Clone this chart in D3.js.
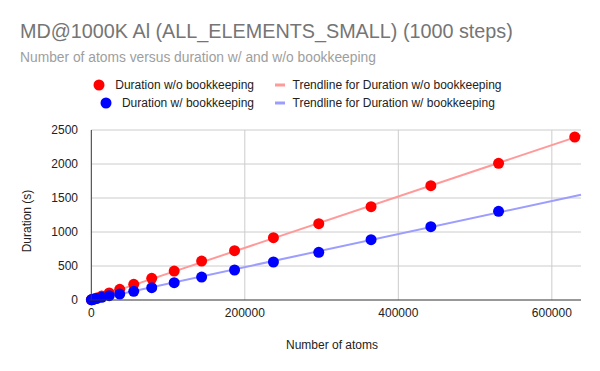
<!DOCTYPE html>
<html><head><meta charset="utf-8">
<script src="https://cdn.jsdelivr.net/npm/d3@7"></script>
<style>body{margin:0;background:#fff}svg{display:block;font-family:"Liberation Sans",Arial,sans-serif}</style>
</head><body><svg id="c" width="600" height="371"></svg>
<script>
const atoms = [108, 864, 2916, 6912, 13500, 23328, 37044, 55296, 78732, 108000, 143748, 186624, 237276, 296352, 364500, 442368, 530604, 629856];
const durWo = [5, 8, 15, 30, 57, 103, 157, 230, 319, 426, 573, 725, 916, 1122, 1372, 1681, 2010, 2397];
const atomsW = [108, 864, 2916, 6912, 13500, 23328, 37044, 55296, 78732, 108000, 143748, 186624, 237276, 296352, 364500, 442368, 530604];
const durW = [2, 4, 10, 22, 40, 64, 88, 128, 181, 255, 338, 441, 559, 701, 887, 1078, 1304];
const yTicks = [0, 500, 1000, 1500, 2000, 2500];
const xTicks = [0, 200000, 400000, 600000];
const seriesNames = ["Duration w/o bookkeeping", "Duration w/ bookkeeping"];
const trendNames = ["Trendline for Duration w/o bookkeeping", "Trendline for Duration w/ bookkeeping"];

const svg = d3.select("#c");
const L = 91.3, R = 581, T = 130, B = 300;
const x = d3.scaleLinear().domain([0, 638000]).range([L, R]);
const y = d3.scaleLinear().domain([0, 2500]).range([B, T]);

svg.append("text").attr("x", 20).attr("y", 37.5).attr("font-size", 19.8).attr("fill", "#757575").text("MD@1000K Al (ALL_ELEMENTS_SMALL) (1000 steps)");
svg.append("text").attr("x", 20).attr("y", 61.5).attr("font-size", 13.8).attr("fill", "#9e9e9e").text("Number of atoms versus duration w/ and w/o bookkeeping");

// grid
svg.append("g").selectAll("line").data(yTicks.slice(1)).join("line")
  .attr("x1", L).attr("x2", R).attr("y1", d => y(d)).attr("y2", d => y(d)).attr("stroke", "#cccccc");
svg.append("g").selectAll("line").data(xTicks.slice(1)).join("line")
  .attr("y1", T).attr("y2", B).attr("x1", d => x(d)).attr("x2", d => x(d)).attr("stroke", "#cccccc");

// tick labels
svg.append("g").selectAll("text").data(yTicks).join("text")
  .attr("x", 78).attr("y", d => y(d) + 4).attr("text-anchor", "end").attr("font-size", 12).attr("fill", "#222").text(d => d);
svg.append("g").selectAll("text").data(xTicks).join("text")
  .attr("x", d => x(d)).attr("y", 317).attr("text-anchor", "middle").attr("font-size", 12).attr("fill", "#222").text(d => d);

svg.append("text").attr("transform", "translate(31,221) rotate(-90)").attr("text-anchor", "middle").attr("font-size", 12).attr("fill", "#222").text("Duration (s)");
svg.append("text").attr("x", 332).attr("y", 349).attr("text-anchor", "middle").attr("font-size", 12).attr("fill", "#222").text("Number of atoms");

// trendlines (least squares)
function fit(xs, ys) {
  const n = xs.length, mx = d3.mean(xs), my = d3.mean(ys);
  let sxy = 0, sxx = 0;
  for (let i = 0; i < n; i++) { sxy += (xs[i]-mx)*(ys[i]-my); sxx += (xs[i]-mx)**2; }
  const b = sxy / sxx; return [b, my - b*mx];
}
const plot = svg.append("g");
[[atoms, durWo, "#ff9a9a"], [atomsW, durW, "#9d9dff"]].forEach(([xs, ys, c]) => {
  const [b, a] = fit(xs, ys);
  const dom = x.domain();
  plot.append("line").attr("x1", x(dom[0])).attr("y1", y(a + b*dom[0])).attr("x2", x(dom[1])).attr("y2", y(a + b*dom[1]))
    .attr("stroke", c).attr("stroke-width", 2);
});

// axes lines
svg.append("line").attr("x1", L).attr("x2", L).attr("y1", T).attr("y2", B).attr("stroke", "#333");
svg.append("line").attr("x1", L - 2).attr("x2", R).attr("y1", B).attr("y2", B).attr("stroke", "#333");

plot.append("g").selectAll("circle").data(atoms.map((a, i) => [a, durWo[i]])).join("circle")
  .attr("cx", d => x(d[0])).attr("cy", d => y(d[1])).attr("r", 5.5).attr("fill", "#ff0000");
plot.append("g").selectAll("circle").data(atomsW.map((a, i) => [a, durW[i]])).join("circle")
  .attr("cx", d => x(d[0])).attr("cy", d => y(d[1])).attr("r", 5.5).attr("fill", "#0000ff");

// legend
const lg = svg.append("g").attr("font-size", 12).attr("fill", "#222");
const rows = [85, 103];
lg.append("circle").attr("cx", 99).attr("cy", rows[0]).attr("r", 5.5).attr("fill", "#ff0000");
lg.append("text").attr("x", 254).attr("y", rows[0] + 4).attr("text-anchor", "end").text(seriesNames[0]);
lg.append("circle").attr("cx", 106).attr("cy", rows[1]).attr("r", 5.5).attr("fill", "#0000ff");
lg.append("text").attr("x", 254).attr("y", rows[1] + 4).attr("text-anchor", "end").text(seriesNames[1]);
lg.append("rect").attr("x", 275).attr("y", rows[0] - 1.5).attr("width", 10).attr("height", 3).attr("fill", "#ff9a9a");
lg.append("text").attr("x", 292.5).attr("y", rows[0] + 4).text(trendNames[0]);
lg.append("rect").attr("x", 275).attr("y", rows[1] - 1.5).attr("width", 10).attr("height", 3).attr("fill", "#9d9dff");
lg.append("text").attr("x", 292.5).attr("y", rows[1] + 4).text(trendNames[1]);
</script></body></html>
